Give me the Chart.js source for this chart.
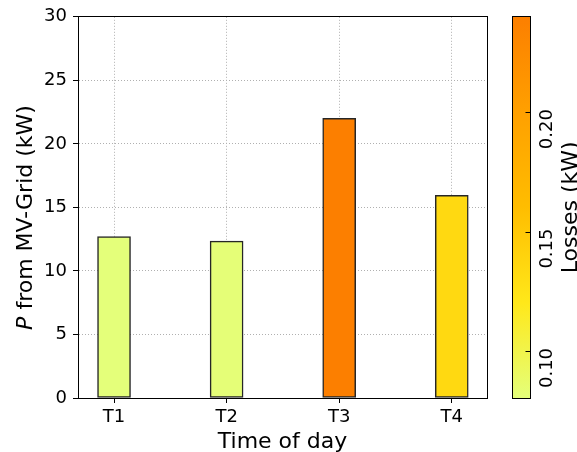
<!DOCTYPE html>
<html>
<head>
<meta charset="utf-8">
<script src="https://cdn.jsdelivr.net/npm/chart.js@4/dist/chart.umd.min.js"></script>
<style>
  html, body { margin: 0; padding: 0; background: #fff; }
  #wrap { width: 577px; height: 452px; position: relative; }
</style>
</head>
<body>
<div id="wrap"><canvas id="c" width="577" height="452"></canvas></div>
<script>
// ---- data ----
const categories = ['T1', 'T2', 'T3', 'T4'];
const powerKW = [12.7, 12.35, 22.0, 15.95];
const lossesKW = [0.0803, 0.0815, 0.2399, 0.134];
const yTicks = [0, 5, 10, 15, 20, 25, 30];
const cbTicks = [0.10, 0.15, 0.20];
const cbTickLabels = ['0.10', '0.15', '0.20'];
const xTitle = 'Time of day';
const yTitleItalic = 'P';
const yTitleRest = ' from MV-Grid (kW)';
const cbTitle = 'Losses (kW)';

// Wistia colormap stops
const wistia = [[0.894,1,0.478],[1,0.91,0.102],[1,0.741,0],[1,0.627,0],[0.988,0.498,0]];
const cbMin = Math.min(...lossesKW);
const cbMax = Math.max(...lossesKW);
function cmap(t) {
  t = Math.max(0, Math.min(1, t));
  const s = t * (wistia.length - 1);
  const i = Math.min(wistia.length - 2, Math.floor(s));
  const f = s - i;
  const c = wistia[i].map((v, k) => Math.round(255 * (v + (wistia[i + 1][k] - v) * f)));
  return `rgb(${c[0]},${c[1]},${c[2]})`;
}
const barColors = lossesKW.map(v => cmap((v - cbMin) / (cbMax - cbMin)));

const FONT = "'DejaVu Sans', sans-serif";

const overlay = {
  id: 'overlay',
  afterDraw(chart) {
    const { ctx, chartArea: a } = chart;
    ctx.save();
    // axes frame
    ctx.strokeStyle = '#000';
    ctx.lineWidth = 1;
    const L = Math.floor(a.left) + 0.5, T = Math.floor(a.top) + 0.5;
    const R = Math.floor(a.right) + 0.5, B = Math.floor(a.bottom) + 0.5;
    ctx.strokeRect(L, T, R - L, B - T);

    // colorbar
    const cx0 = Math.floor(a.right) + 25.5, cw = 18;
    const grad = ctx.createLinearGradient(0, a.bottom, 0, a.top);
    wistia.forEach((c, i) => grad.addColorStop(i / (wistia.length - 1),
      `rgb(${Math.round(c[0]*255)},${Math.round(c[1]*255)},${Math.round(c[2]*255)})`));
    ctx.fillStyle = grad;
    ctx.fillRect(cx0, T, cw, B - T);
    ctx.strokeRect(cx0, T, cw, B - T);
    const yOf = v => a.bottom - (v - cbMin) / (cbMax - cbMin) * (a.bottom - a.top);
    ctx.fillStyle = '#000';
    ctx.font = `18px ${FONT}`;
    ctx.textBaseline = 'alphabetic';
    cbTicks.forEach((v, i) => {
      const y = Math.round(yOf(v)) + 0.5;
      ctx.beginPath();
      ctx.moveTo(cx0 + cw - 5, y);
      ctx.lineTo(cx0 + cw, y);
      ctx.stroke();
      ctx.save();
      ctx.translate(cx0 + cw + 21, yOf(v) - 3);
      ctx.rotate(-Math.PI / 2);
      ctx.textAlign = 'right';
      ctx.fillText(cbTickLabels[i], 0, 0);
      ctx.restore();
    });
    // colorbar title
    ctx.save();
    ctx.font = `22px ${FONT}`;
    ctx.textAlign = 'center';
    ctx.translate(577, (a.top + a.bottom) / 2);
    ctx.rotate(-Math.PI / 2);
    ctx.fillText(cbTitle, 0, 0);
    ctx.restore();

    // x title
    ctx.font = `22px ${FONT}`;
    ctx.textAlign = 'center';
    ctx.fillText(xTitle, (a.left + a.right) / 2, 448);

    // y title with italic P
    ctx.save();
    ctx.translate(31.5, 217.5);
    ctx.rotate(-Math.PI / 2);
    ctx.textAlign = 'left';
    ctx.font = `italic 22px ${FONT}`;
    const w1 = ctx.measureText(yTitleItalic).width;
    ctx.font = `22px ${FONT}`;
    const w2 = ctx.measureText(yTitleRest).width;
    const start = -(w1 + w2) / 2;
    ctx.font = `italic 22px ${FONT}`;
    ctx.fillText(yTitleItalic, start, 0);
    ctx.font = `22px ${FONT}`;
    ctx.fillText(yTitleRest, start + w1, 0);
    ctx.restore();
    ctx.restore();
  }
};

new Chart(document.getElementById('c'), {
  type: 'bar',
  data: {
    datasets: [{
      data: categories.map((c, i) => ({ x: i, y: powerKW[i] })),
      backgroundColor: barColors,
      borderColor: '#262626',
      borderWidth: 1.5,
      borderSkipped: false,
      barThickness: 33
    }]
  },
  options: {
    responsive: false,
    animation: false,
    devicePixelRatio: 1,
    layout: { padding: { left: 0, right: 90, top: 15, bottom: 0 } },
    plugins: { legend: { display: false }, tooltip: { enabled: false } },
    scales: {
      x: {
        type: 'linear',
        min: -0.32,
        max: 3.313,
        offset: false,
        z: 1,
        afterBuildTicks: s => { s.ticks = categories.map((c, i) => ({ value: i })); },
        afterFit: s => { s.height = 54; },
        ticks: {
          autoSkip: false, maxRotation: 0, minRotation: 0,
          padding: 4,
          color: '#000',
          font: { family: FONT, size: 18 },
          callback: v => categories[v]
        },
        grid: {
          offset: false,
          color: '#b0b0b0', lineWidth: 1,
          tickColor: '#000', tickLength: 5, tickWidth: 1
        },
        border: { display: true, color: '#000', width: 1, dash: [1, 2] }
      },
      y: {
        type: 'linear',
        min: 0, max: 30,
        z: 1,
        afterBuildTicks: s => { s.ticks = yTicks.map(v => ({ value: v })); },
        afterFit: s => { s.width = 78; },
        ticks: {
          padding: 6,
          color: '#000',
          font: { family: FONT, size: 18 }
        },
        grid: {
          offset: false,
          color: '#b0b0b0', lineWidth: 1,
          tickColor: '#000', tickLength: 5, tickWidth: 1
        },
        border: { display: true, color: '#000', width: 1, dash: [1, 2] }
      }
    }
  },
  plugins: [overlay]
});
</script>
</body>
</html>
